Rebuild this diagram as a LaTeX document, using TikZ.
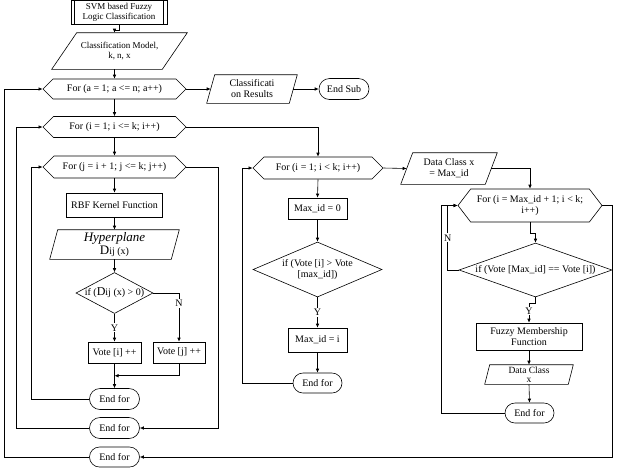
\documentclass[tikz,border=0pt]{standalone}
\usepackage{fontspec}
\setmainfont{Liberation Serif}
\usetikzlibrary{shapes.geometric,shapes.misc,shapes.symbols,arrows.meta,calc}

\newcommand{\inbox}[1]{\makebox[0pt]{\begin{tabular}{@{}c@{}}#1\end{tabular}}}

\tikzset{
  base/.style={draw, font=\fontsize{10}{11}\selectfont, align=center, inner sep=1pt, line width=0.6pt},
  proc/.style={base, rectangle, minimum width=#1, minimum height=21pt},
  loopbox/.style={base, signal, signal to=west and east, signal pointer angle=90, minimum width=#1, minimum height=21pt},
  io/.style={base, draw=none, rectangle, append after command={\pgfextra{%
      \draw[line width=0.6pt] ([xshift=#1]\tikzlastnode.north west) -- ([xshift=#1]\tikzlastnode.north east)
        -- ([xshift=-#1]\tikzlastnode.south east) -- ([xshift=-#1]\tikzlastnode.south west) -- cycle;}}},
  decide/.style={base, diamond, inner sep=0pt},
  term/.style={base, rounded rectangle, minimum width=52pt, minimum height=21pt},
  yn/.style={fill=white, inner sep=1pt, font=\fontsize{10}{11}\selectfont}
}

\begin{document}
\begin{tikzpicture}[x=1pt, y=-1pt, line width=0.6pt, >={Latex[length=4pt,width=3.5pt]}]
    \useasboundingbox (0,0) rectangle (617,467);
    % pairwise voting
    \node[proc=96pt, minimum height=24pt, font=\fontsize{9}{10}\selectfont] (title) at (119,12) {SVM based Fuzzy\\Logic Classification};
    \draw ([xshift=4pt]title.north west) -- ([xshift=4pt]title.south west)
          ([xshift=-4pt]title.north east) -- ([xshift=-4pt]title.south east);
    \node[io=12.5pt, minimum width=110pt, minimum height=36pt, font=\fontsize{9}{10}\selectfont] (model) at (119.5,51) {Classification Model,\\k, n, x};
    \node[loopbox=143pt, minimum height=20pt] (forA) at (114.5,89) {For (a = 1; a <= n; a++)};
    \node[io=4pt, minimum width=82pt, minimum height=28pt] (result) at (252,89) {Classificati\\on Results};
    \node[term] (endSub) at (344,89) {End Sub};
    \node[loopbox=143pt] (forI) at (114.5,127) {For (i = 1; i <= k; i++)};
    \node[loopbox=143pt, minimum height=22pt] (forJ) at (114.5,167) {For (j = i + 1; j <= k; j++)};
    \node[proc=96pt, minimum height=24pt] (rbf) at (114.5,205) {RBF Kernel Function};
    \node[io=4pt, minimum width=121pt, minimum height=29pt, inner sep=0pt] (hyper) at (114.5,244.5) {{\fontsize{13}{12}\selectfont\itshape Hyperplane}\\{\fontsize{13}{12}\selectfont D}ij (x)};
    \node[decide, minimum width=77pt, minimum height=41pt] (ifD) at (114.5,293) {\inbox{if ({\fontsize{12}{12}\selectfont D}ij (x) > 0)}};
    \node[proc=53pt] (voteI) at (114.5,352.5) {Vote [i] ++};
    \node[proc=52pt] (voteJ) at (179,352.5) {Vote [j] ++};
    \node[term] (endJ) at (114.5,399) {End for};
    \node[term] (endI) at (114.5,428) {End for};
    \node[term, minimum height=20pt] (endA) at (114.5,457) {End for};

    % winner search
    \node[loopbox=130pt, minimum height=22pt] (forI2) at (318,168) {For (i = 1; i < k; i++)};
    \node[proc=59pt] (max0) at (317.5,208.5) {Max\_id = 0};
    \node[decide, minimum width=129pt, minimum height=55pt] (ifV) at (317.5,269.5) {\inbox{if (Vote [i] > Vote\\{}[max\_id])}};
    \node[proc=59pt, minimum height=24pt] (maxI) at (317.5,340) {Max\_id = i};
    \node[term, minimum width=51pt, minimum height=20pt] (endI2) at (317.5,383) {End for};

    % fuzzy membership
    \node[io=6pt, minimum width=84pt, minimum height=31pt] (dcx) at (449,168.5) {Data Class x\\= Max\_id};
    \node[loopbox=144pt, minimum height=33pt, signal pointer angle=105] (forM) at (530,205.5) {For (i = Max\_id + 1; i < k;\\i++)};
    \node[decide, minimum width=153pt, minimum height=54pt] (ifM) at (535.5,270) {\inbox{if (Vote [Max\_id] == Vote [i])}};
    \node[proc=106pt, minimum height=27pt] (fuzzy) at (529,336.5) {Fuzzy Membership\\Function};
    \node[io=2.5pt, minimum width=83pt, minimum height=19pt, inner sep=0pt, font=\fontsize{9.5}{9}\selectfont] (dc) at (529,374.5) {Data Class\\x};
    \node[term, minimum width=51pt, minimum height=20pt] (endM) at (529.5,413) {End for};

    % connectors
    \draw[->] (title.south) -- ++(0,6) -| (forA.north |- model.north);
    \draw[->] (model.south -| forA.north) -- (forA.north);
    \draw[->] (forA.east) -- (result.west);
    \draw[->] (result.east) -- (endSub.west);
    \draw[->] (forA.south) -- (forI.north);
    \draw[->] (forI.south) -- (forJ.north);
    \draw[->] (forJ.south) -- (rbf.north);
    \draw[->] (rbf.south) -- (hyper.north);
    \draw[->] (hyper.south) -- (ifD.north);
    \draw[->] (ifD.south) -- node[yn] {Y} (voteI.north);
    \draw[->] (ifD.east) -| node[yn, pos=0.61] {N} (voteJ.north);
    \draw[->] (voteI.south) -- (endJ.north);
    \draw[->] (voteJ.south) |- ($(voteI.south)!0.5!(endJ.north)$);
    \draw[->] (endJ.west) -- ++(-58,0) |- (forJ.west);
    \draw[->] (endI.west) -- ++(-73,0) |- (forI.west);
    \draw[->] (endA.west) -- ++(-85,0) |- (forA.west);
    \draw[->] (forJ.east) -- ++(32,0) |- (endI.east);
    \draw[->] (forI.east) -| (forI2.north);

    \draw[->] (forI2.south) -- (max0.north);
    \draw[->] (max0.south) -- (ifV.north);
    \draw[->] (ifV.south) -- node[yn] {Y} (maxI.north);
    \draw[->] (maxI.south) -- (endI2.north);
    \draw[->] (endI2.west) -- ++(-50,0) |- (forI2.west);
    \draw[->] (forI2.east) -- (dcx.west);
    \draw[->] (dcx.east) -| (forM.north);

    \draw[->] (forM.south) -- ++(0,11) -| (ifM.north);
    \draw[->] (ifM.west) -- ++(-11,0) |- node[yn, pos=0.25] {N} (forM.west);
    \draw[->] (ifM.south) -- ++(0,6) -| node[yn, pos=0.7] {Y} (fuzzy.north);
    \draw[->] (fuzzy.south) -- (dc.north);
    \draw[->] (dc.south) -- (endM.north);
    \draw[->] (endM.west) -- ++(-63,0) |- (forM.west);
    \draw[->] (forM.east) -- ++(10,0) |- (endA.east);
\end{tikzpicture}
\end{document}
